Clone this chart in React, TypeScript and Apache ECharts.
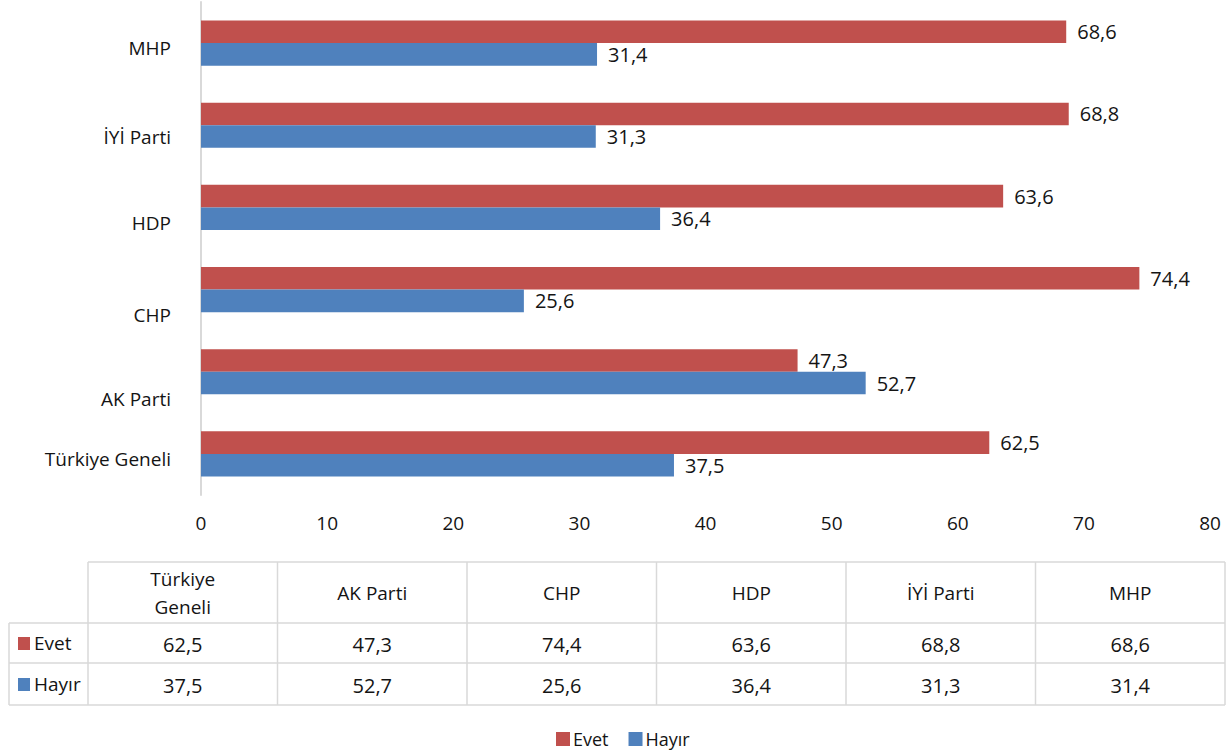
import React, { useEffect, useRef } from "react";
import * as echarts from "echarts";

const categories = ["Türkiye Geneli", "AK Parti", "CHP", "HDP", "İYİ Parti", "MHP"];
const tableHeaders = ["Türkiye\nGeneli", "AK Parti", "CHP", "HDP", "İYİ Parti", "MHP"];
const seriesNames = ["Evet", "Hayır"];
const evet = [62.5, 47.3, 74.4, 63.6, 68.8, 68.6];
const hayir = [37.5, 52.7, 25.6, 36.4, 31.3, 31.4];
const xMin = 0;
const xMax = 80;
const xInterval = 10;

const RED = "#C0504D";
const BLUE = "#4F81BD";
const FONT = "Open Sans";
const TXT = "#141414";

// per-category vertical label shift (layout only)
const labelShift = [5, 27, 25, 16, 12, 5];

const fmt = (v: number) => v.toFixed(1).replace(".", ",");

export default function App() {
  const ref = useRef<HTMLDivElement>(null);
  useEffect(() => {
    document.body.style.margin = "0";
    const chart = echarts.init(ref.current!, null, { renderer: "svg" });

    const tblLeft = 88;
    const tblRight = 1225;
    const colW = (tblRight - tblLeft) / categories.length;
    const yTop = 562;
    const yHead = 623;
    const yRow1 = 663;
    const yRow2 = 705;
    const lineStyle = { stroke: "#d9d9d9", lineWidth: 1.5 };
    const g: any[] = [];
    const hl = (x1: number, x2: number, y: number) =>
      g.push({ type: "line", shape: { x1, y1: y, x2, y2: y }, style: lineStyle, silent: true });
    const vl = (x: number, y1: number, y2: number) =>
      g.push({ type: "line", shape: { x1: x, y1, x2: x, y2 }, style: lineStyle, silent: true });
    hl(tblLeft, tblRight, yTop);
    hl(9, tblRight, yHead);
    hl(9, tblRight, yRow1);
    hl(9, tblRight, yRow2);
    vl(9, yHead, yRow2);
    for (let i = 0; i <= categories.length; i++) vl(tblLeft + colW * i, yTop, yRow2);
    const rows = [evet, hayir];
    const colors = [RED, BLUE];
    tableHeaders.forEach((h, i) => {
      const cx = tblLeft + colW * (i + 0.5);
      g.push({
        type: "text",
        x: cx,
        y: (yTop + yHead) / 2,
        style: { text: h, font: `19px '${FONT}'`, fill: TXT, align: "center", verticalAlign: "middle", lineHeight: 28 },
      });
      rows.forEach((r, k) => {
        const yc = k === 0 ? (yHead + yRow1) / 2 : (yRow1 + yRow2) / 2;
        g.push({
          type: "text",
          x: cx,
          y: yc + 1,
          style: { text: fmt(r[i]), font: `500 20px '${FONT}'`, fill: TXT, align: "center", verticalAlign: "middle" },
        });
      });
    });
    seriesNames.forEach((n, k) => {
      const yc = k === 0 ? (yHead + yRow1) / 2 : (yRow1 + yRow2) / 2;
      g.push({ type: "rect", shape: { x: 18, y: yc - 6, width: 12, height: 13 }, style: { fill: colors[k] } });
      g.push({
        type: "text",
        x: 34,
        y: yc,
        style: { text: n, font: `19px '${FONT}'`, fill: TXT, align: "left", verticalAlign: "middle" },
      });
    });

    const barLabel = {
      show: true,
      position: "right",
      distance: 11,
      fontFamily: FONT,
      fontSize: 20,
      fontWeight: 500,
      color: TXT,
      formatter: (p: any) => fmt(p.value),
    };

    const rich: any = {};
    labelShift.forEach((d, i) => {
      rich["c" + i] = { fontSize: 19, color: TXT, fontFamily: FONT, padding: [d * 2, 0, 0, 0] };
    });

    chart.setOption({
      animation: false,
      textStyle: { fontFamily: FONT },
      grid: { left: 201, right: 18, top: 2, bottom: 755 - 495, containLabel: false },
      xAxis: {
        type: "value",
        min: xMin,
        max: xMax,
        interval: xInterval,
        axisLine: { show: false },
        axisTick: { show: false },
        splitLine: { show: false },
        axisLabel: { fontSize: 19, color: TXT, margin: 18, fontFamily: FONT },
      },
      yAxis: {
        type: "category",
        data: categories,
        axisLine: { show: true, lineStyle: { color: "#d9d9d9", width: 2 } },
        axisTick: { show: false },
        axisLabel: {
          fontSize: 19,
          color: TXT,
          margin: 30,
          fontFamily: FONT,
          formatter: (v: string, i: number) => `{c${i}|${v}}`,
          rich,
        },
      },
      legend: {
        data: seriesNames,
        left: 556,
        top: 729,
        padding: 0,
        icon: "rect",
        itemWidth: 14,
        itemHeight: 14,
        itemGap: 20,
        textStyle: { fontSize: 18, lineHeight: 20, color: TXT, fontFamily: FONT, padding: [0, 0, 0, -2] },
      },
      series: [
        {
          name: seriesNames[0],
          type: "bar",
          data: evet,
          itemStyle: { color: RED },
          barGap: "0%",
          barCategoryGap: "45%",
          label: barLabel,
        },
        {
          name: seriesNames[1],
          type: "bar",
          data: hayir,
          itemStyle: { color: BLUE },
          barGap: "0%",
          barCategoryGap: "45%",
          label: barLabel,
        },
      ],
      graphic: g,
    });
    return () => chart.dispose();
  }, []);
  return <div ref={ref} style={{ width: 1228, height: 755 }} />;
}
